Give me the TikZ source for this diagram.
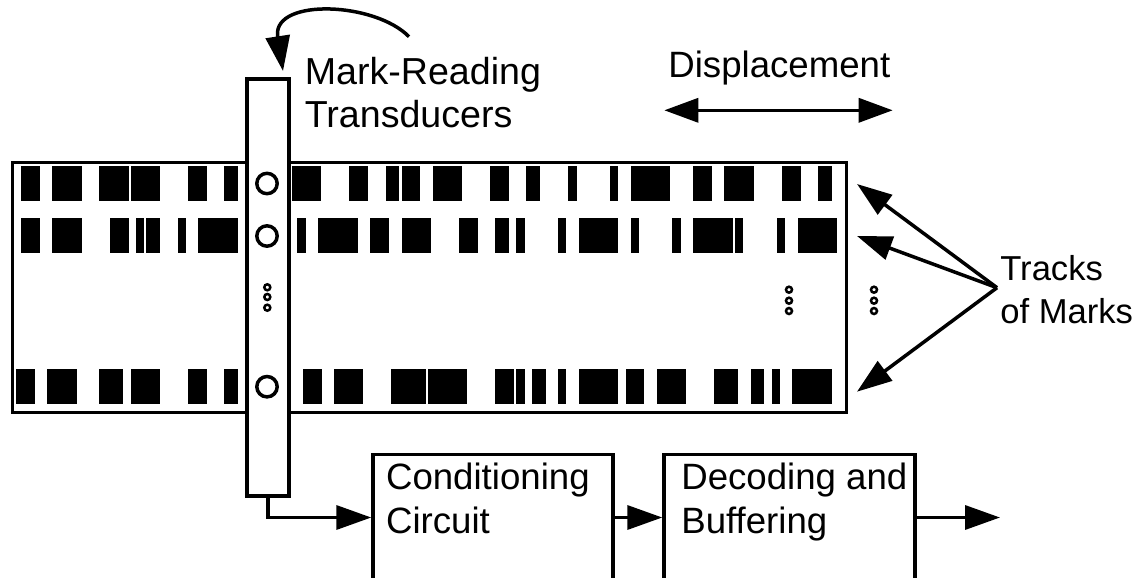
\documentclass[tikz,border=0pt]{standalone}
\usepackage{fontspec}
\setmainfont{Liberation Sans}
\usetikzlibrary{arrows.meta}
\colorlet{trackInk}{black}
\begin{document}
\begin{tikzpicture}[
  x=0.02cm,
  y=-0.02cm,
  every box/.style={
    draw=black,
    line width=0.07cm,
    fill=white,
    inner sep=0pt,
  },
  every label text/.style={
    inner sep=0pt,
    align=left,
    font=\fontsize{20.85}{24.9}\selectfont,
  },
  reader label/.style={
    every label text/.try,
    font=\fontsize{21.4}{24.9}\selectfont,
  },
  tracks label/.style={
    every label text/.try,
    font=\fontsize{19.7}{24.9}\selectfont,
  },
  track mark/.style={
    fill=trackInk,
  },
  reader hole/.style={
    draw=black,
    line width=0.07cm,
  },
  small dot/.style={
    draw=black,
    line width=0.05cm,
  },
  wire/.style={
    draw=black,
    line width=0.07cm,
    -{Triangle[length=0.7cm,width=0.48cm]},
  },
  both wire/.style={
    draw=black,
    line width=0.07cm,
    {Triangle[length=0.68cm,width=0.48cm]}-{Triangle[length=0.68cm,width=0.48cm]},
  }
]
\path[use as bounding box,clip] (0,0) rectangle (1140,578);
\node[every box,minimum width=16.68cm,minimum height=5cm] (strip) at (429.5,287.7) {};
\foreach \a/\b in {21/40,52.3/81.7,99.3/128.7,130.7/159.7,188/206.7,224.3/238,292/321.3,
  349.3/368.3,386/399.3,401.7/420.3,433/462,490/509,526.3/540,568.3/576.7,610/618.3,
  631/670.3,693/711.7,724.3/753.7,782/800.7,818.3/831.7}
{
  \fill[track mark] (\a,166) rectangle (\b,200.7);
}
\foreach \a/\b in {21/40,52.3/81.7,110/128.7,136/144.3,146.3/159.7,177.7/186,198.3/238,
  297.3/305.7,318.3/357.7,370.3/389,401.7/430.7,459/477.7,495.3/509,516/524.7,558/566.3,
  578.7/618.3,631/639,672.3/680.7,693/733,735/743.3,776.7/785,797.7/837}
{
  \fill[track mark] (\a,218.3) rectangle (\b,252.7);
}
\foreach \a/\b in {16/35,47.3/76.7,99.3/123.3,130.7/159.7,188/206.7,224.3/238,302.7/321.7,
  334/363,391/425.7,427.7/467.3,495.3/514,516/524.7,532/545.7,558/566.3,578.7/618.3,
  625.7/644.3,657/686,714/738,750.7/764.3,771.7/780,792.3/831.7}
{
  \fill[track mark] (\a,369.3) rectangle (\b,404);
}
\node[every box,minimum width=0.84cm,minimum height=8.34cm] (bar) at (268,287.5) {};
\foreach \y in {183.5,236,386.7}
  \draw[reader hole] (267,\y) circle (10.2);
\foreach \y in {287.3,297,307.7}
  \draw[small dot] (267.3,\y) circle (3);
\foreach \x in {789,874}
  \foreach \y in {289.7,300.7,311}
    \draw[small dot] (\x,\y) circle (3);
\node[every box,minimum width=4.8cm,minimum height=2.52cm] (cond) at (493,517.5) {};
\node[every box,minimum width=5.02cm,minimum height=2.52cm] (dec) at (789.5,517.5) {};
\node[every label text,anchor=north west] (condtext) at (385.7,462.4) {Conditioning\\Circuit};
\node[every label text,anchor=north west] (dectext) at (681,462.4) {Decoding and\\Buffering};
\node[reader label,anchor=north west] (readertext) at (304.5,56.5) {Mark-Reading\\Transducers};
\node[tracks label,anchor=north west] (trackstext) at (1000,254.7) {Tracks\\of Marks};
\node[every label text,anchor=base west] (disptext) at (668,77.3) {Displacement};
\coordinate (out) at (1000,517.5);
\coordinate (displeft) at (664.3,110.3);
\coordinate (dispright) at (892.7,110.3);
\coordinate (trackjoin) at (997,287.7);
\coordinate (tipa) at (857,184);
\coordinate (tipb) at (857,236);
\coordinate (tipc) at (857,391.7);
\coordinate (bendstart) at (409,36.7);
\coordinate (bendbase) at (277.5,35);
\coordinate (bendend) at (283,71);
\draw[wire] (bar.south) |- (cond.west);
\draw[wire] (cond.east) -- (dec.west);
\draw[wire] (dec.east) -- (out);
\draw[both wire] (displeft) -- (dispright);
\foreach \k in {a,b,c}
{
  \draw[wire] (trackjoin) -- (tip\k);
}
\draw[wire] (bendstart) .. controls (375,2) and (275,-2) .. (bendbase) -- (bendend);
\end{tikzpicture}
\end{document}
